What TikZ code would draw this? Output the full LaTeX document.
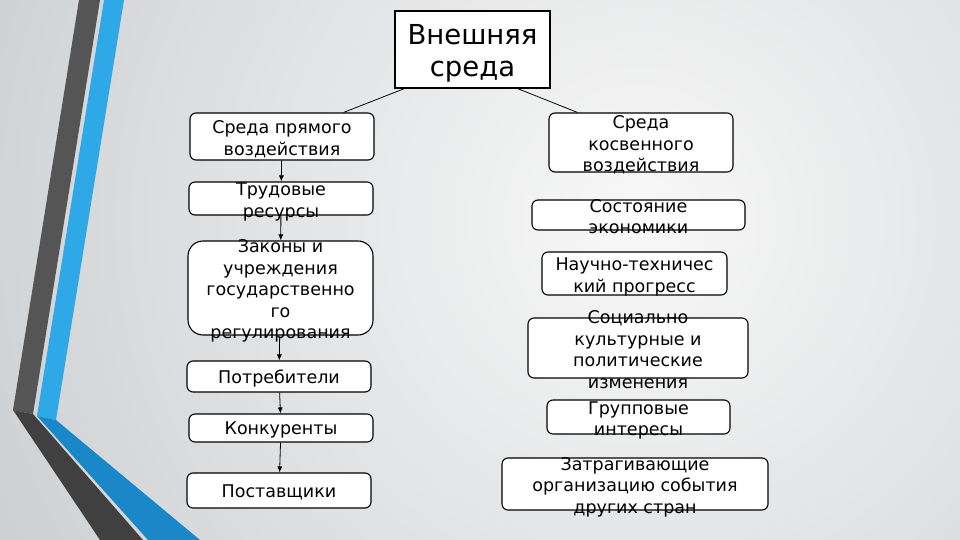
\documentclass[tikz,border=0pt]{standalone}
\usepackage{fontspec}
\setmainfont{DejaVu Sans}
\usepackage{tikz}
\usetikzlibrary{arrows.meta}
\tikzstyle{none}=[inner sep=0pt]
\definecolor{hexcolor0x555555}{rgb}{0.333,0.333,0.333}
\definecolor{hexcolor0x404040}{rgb}{0.251,0.251,0.251}
\definecolor{hexcolor0x2ea8e6}{rgb}{0.180,0.659,0.902}
\definecolor{hexcolor0x1a87c8}{rgb}{0.102,0.529,0.784}
\definecolor{hexcolor0xf8f8f8}{rgb}{0.973,0.973,0.973}
\definecolor{hexcolor0xbcc0c3}{rgb}{0.737,0.753,0.765}
\definecolor{myblack}{rgb}{0.000,0.000,0.000}
\definecolor{mywhite}{rgb}{1.000,1.000,1.000}
\tikzstyle{box}=[rectangle,rounded corners=6,fill=mywhite,draw=myblack,line width=1.1,inner sep=0pt]
\tikzstyle{bigbox}=[rectangle,fill=mywhite,draw=myblack,line width=1.1,inner sep=0pt]
\tikzstyle{txt}=[inner sep=0pt,align=center,font=\fontsize{17.5}{21.5}\selectfont,
	execute at begin node={\rule[-4pt]{0pt}{21.5pt}},execute at end node={\rule[-4pt]{0pt}{21.5pt}}]
\tikzstyle{txtm}=[style=txt,yshift=-3.5]
\tikzstyle{bigtxt}=[inner sep=0pt,align=center,font=\fontsize{27.5}{32}\selectfont,yshift=-3.5,
	execute at begin node={\rule[-5pt]{0pt}{32.5pt}},execute at end node={\rule[-5pt]{0pt}{32.5pt}}]
\tikzstyle{arrow}=[-{Latex[length=6,width=5]},draw=myblack,line width=0.8]

\begin{document}
\begin{tikzpicture}[x=1pt,y=-1pt]
\useasboundingbox (0,0) rectangle (960,540);
\begin{scope}
\clip (0,0) rectangle (960,540);
\fill [hexcolor0xbcc0c3] (0,0) rectangle (960,540);
\shade [inner color=hexcolor0xf8f8f8,outer color=hexcolor0xbcc0c3] (640,220) circle (1000);
\end{scope}
	% stripes
	\fill [hexcolor0x555555] (79,0) -- (100,0) -- (33,414) -- (13,410) -- cycle;
	\fill [hexcolor0x404040] (13,410) -- (33,414) -- (143,540) -- (100,540) -- cycle;
	\fill [hexcolor0x2ea8e6] (104,0) -- (124,0) -- (56,420) -- (37,416) -- cycle;
	\fill [hexcolor0x1a87c8] (37,416) -- (56,420) -- (200,540) -- (148,540) -- cycle;
	%\begin{pgfonlayer}{nodelayer}
		\node [style=bigbox,minimum width=155,minimum height=77] (0) at (472.5, 49.5) {};
		\node [style=box,minimum width=184,minimum height=47] (1) at (282, 136.5) {};
		\node [style=box,minimum width=184,minimum height=33] (2) at (281, 198.5) {};
		\node [style=box,rounded corners=15,minimum width=185,minimum height=94] (3) at (280.5, 288) {};
		\node [style=box,minimum width=184,minimum height=31] (4) at (279, 376.5) {};
		\node [style=box,minimum width=184,minimum height=28] (5) at (281, 428) {};
		\node [style=box,minimum width=184,minimum height=35] (6) at (279, 490.5) {};
		\node [style=box,minimum width=184,minimum height=59] (7) at (641, 142.5) {};
		\node [style=box,minimum width=213,minimum height=30] (8) at (638.5, 215) {};
		\node [style=box,minimum width=185,minimum height=43] (9) at (634.5, 273.5) {};
		\node [style=box,minimum width=220,minimum height=60] (10) at (638, 348) {};
		\node [style=box,minimum width=183,minimum height=34] (11) at (638.5, 417) {};
		\node [style=box,minimum width=266,minimum height=52] (12) at (635, 484) {};
		\node [style=bigtxt] (t0) at (0) {Внешняя\\среда};
		\node [style=txtm] (t1) at (1) {Среда прямого\\воздействия};
		\node [style=txtm] (t2) at (2) {Трудовые\\ресурсы};
		\node [style=txtm] (t3) at (3) {Законы и\\учреждения\\государственно\\го\\регулирования};
		\node [style=txt] (t4) at (4) {Потребители};
		\node [style=txt] (t5) at (5) {Конкуренты};
		\node [style=txt] (t6) at (6) {Поставщики};
		\node [style=txtm] (t7) at (7) {Среда\\косвенного\\воздействия};
		\node [style=txtm] (t8) at (8) {Состояние\\экономики};
		\node [style=txtm] (t9) at (9) {Научно-техничес\\кий прогресс};
		\node [style=txtm] (t10) at (10) {Социально\\культурные и\\политические\\изменения};
		\node [style=txtm] (t11) at (11) {Групповые\\интересы};
		\node [style=txtm] (t12) at (12) {Затрагивающие\\организацию события\\других стран};
	%\end{pgfonlayer}
	%\begin{pgfonlayer}{edgelayer}
		\draw [draw=myblack,line width=0.8] ([xshift=10]0.south west) to ([xshift=-31]1.north east);
		\draw [draw=myblack,line width=0.8] ([xshift=-33]0.south east) to ([xshift=29]7.north west);
		\draw [style=arrow] (1) to (2);
		\draw [style=arrow] (2) to (3);
		\draw [style=arrow] (3) to (4);
		\draw [style=arrow] (4) to (5);
		\draw [style=arrow] (5) to (6);
	%\end{pgfonlayer}
\end{tikzpicture}
\end{document}
